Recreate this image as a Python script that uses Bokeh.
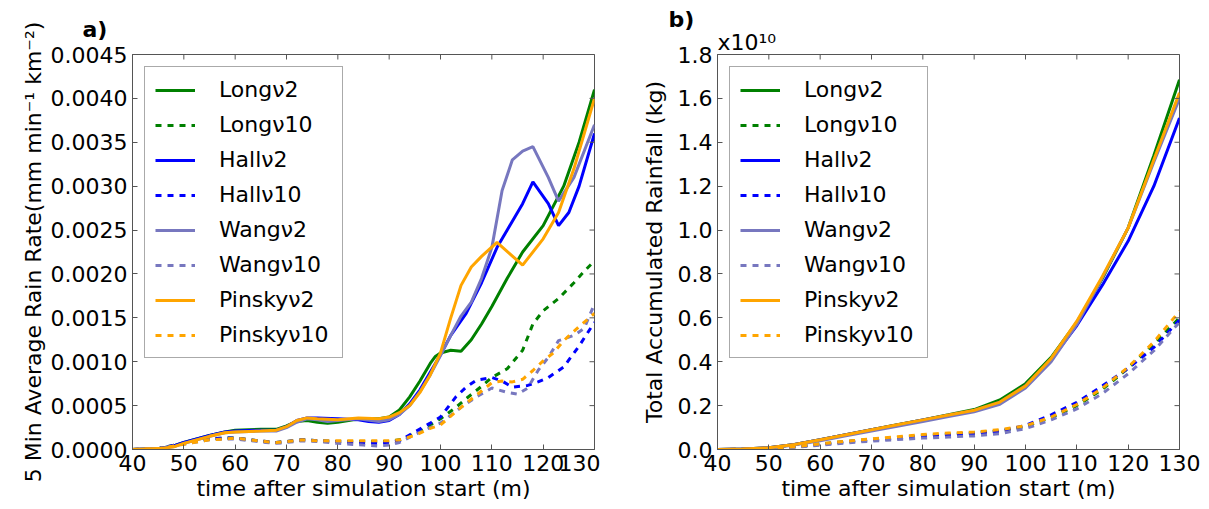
import math
from bokeh.plotting import figure
from bokeh.layouts import row
from bokeh.models import (FixedTicker, PrintfTickFormatter, Legend, LegendItem, Range1d, Title)
from bokeh.embed import file_html
from bokeh.resources import INLINE

# ---------------- panel a) : 5 min average rain rate ----------------
t_long2 = [40, 45, 48, 50, 55, 58, 60, 65, 68, 70, 72, 74, 76, 78, 80, 83, 86, 88, 90, 92, 94, 96, 98, 99,
           100, 102, 104, 106, 108, 110, 113, 116, 120, 124, 127, 130]
r_long2 = [0, 0.00001, 0.00004, 0.00008, 0.00016, 0.0002, 0.00022, 0.00023, 0.00023, 0.00027, 0.00032,
           0.00033, 0.00031, 0.0003, 0.00031, 0.00034, 0.00035, 0.00035, 0.00037, 0.00045, 0.0006, 0.00078,
           0.00098, 0.00106, 0.0011, 0.00113, 0.00112, 0.00125, 0.00143, 0.00163, 0.00195, 0.00225, 0.00255,
           0.003, 0.0035, 0.0041]

t_long10 = [40, 45, 50, 55, 58, 60, 63, 66, 68, 70, 73, 76, 80, 85, 90, 92, 95, 98, 100, 103, 105, 108, 110,
            113, 116, 118, 120, 123, 126, 128, 130]
r_long10 = [0, 0.00001, 0.00007, 0.00012, 0.00013, 0.00013, 0.00011, 0.00009, 0.00008, 0.00009, 0.00011,
            0.0001, 0.00009, 0.00009, 0.00009, 0.00011, 0.00018, 0.00028, 0.00035, 0.00048, 0.00058, 0.00072,
            0.00082, 0.00092, 0.00113, 0.00143, 0.00158, 0.00172, 0.0019, 0.00203, 0.00215]

t_hall2 = [40, 45, 48, 50, 55, 58, 60, 65, 68, 70, 72, 74, 76, 80, 84, 86, 88, 90, 92, 94, 96, 98, 100, 102,
           105, 108, 111, 113, 116, 118, 121, 123, 125, 127, 130]
r_hall2 = [0, 0.00001, 0.00004, 0.00008, 0.00016, 0.0002, 0.00021, 0.00022, 0.00022, 0.00026, 0.00033,
           0.00036, 0.00036, 0.00035, 0.00034, 0.00032, 0.00031, 0.00033, 0.0004, 0.00052, 0.00068, 0.00088,
           0.00108, 0.0013, 0.00155, 0.0019, 0.0023, 0.0025, 0.0028, 0.00305, 0.0028, 0.00255, 0.0027,
           0.003, 0.0036]

t_hall10 = [40, 45, 50, 55, 58, 60, 63, 66, 68, 70, 73, 76, 80, 85, 88, 90, 92, 95, 98, 100, 103, 105, 107,
            110, 112, 114, 117, 119, 121, 124, 127, 130]
r_hall10 = [0, 0.00001, 0.00007, 0.00012, 0.00013, 0.00013, 0.00011, 0.00009, 0.00008, 0.00009, 0.00011,
            0.0001, 0.00009, 0.00007, 0.00007, 0.00008, 0.0001, 0.0002, 0.0003, 0.00037, 0.0006, 0.00071,
            0.00079, 0.00082, 0.00078, 0.00071, 0.00073, 0.00077, 0.00082, 0.00094, 0.00118, 0.00145]

t_wang2 = [40, 45, 48, 50, 55, 58, 60, 65, 68, 70, 72, 74, 76, 78, 80, 84, 88, 90, 92, 94, 96, 98, 100, 102,
           104, 106, 108, 110, 112, 114, 116, 118, 121, 123, 126, 130]
r_wang2 = [0, 0.00001, 0.00003, 0.00007, 0.00015, 0.00019, 0.0002, 0.00021, 0.00021, 0.00025, 0.00031,
           0.00035, 0.00034, 0.00032, 0.00033, 0.00035, 0.00032, 0.00034, 0.0004, 0.0005, 0.00066, 0.00085,
           0.00107, 0.0013, 0.00152, 0.00168, 0.00195, 0.0023, 0.00295, 0.0033, 0.0034, 0.00345, 0.0031,
           0.00283, 0.0031, 0.0037]

t_wang10 = [40, 45, 50, 55, 58, 60, 63, 66, 68, 70, 73, 76, 80, 85, 88, 90, 92, 95, 98, 100, 104, 107, 110,
            113, 115, 117, 119, 121, 123, 126, 128, 130]
r_wang10 = [0, 0.00001, 0.00006, 0.00011, 0.00012, 0.00012, 0.0001, 0.00008, 0.00007, 0.00008, 0.0001,
            0.00009, 0.00007, 0.00005, 0.00004, 0.00005, 0.00008, 0.00017, 0.00025, 0.0003, 0.00048, 0.0006,
            0.0007, 0.00065, 0.00063, 0.0007, 0.0009, 0.00105, 0.00124, 0.0013, 0.00138, 0.00166]

t_pinsky2 = [40, 45, 48, 50, 55, 58, 60, 65, 68, 70, 72, 74, 76, 80, 84, 88, 90, 92, 94, 96, 98, 100, 102,
             104, 106, 108, 111, 116, 120, 123, 126, 128, 130]
r_pinsky2 = [0, 0.00001, 0.00003, 0.00007, 0.00015, 0.00019, 0.0002, 0.00021, 0.00022, 0.00026, 0.00033,
             0.00036, 0.00035, 0.00034, 0.00036, 0.00035, 0.00037, 0.00042, 0.0005, 0.00065, 0.00085, 0.0011,
             0.0015, 0.00187, 0.00208, 0.0022, 0.00236, 0.0021, 0.0024, 0.0027, 0.0032, 0.0036, 0.004]

t_pinsky10 = [40, 45, 50, 55, 58, 60, 63, 66, 68, 70, 73, 76, 80, 85, 90, 92, 95, 98, 100, 104, 107, 110,
              112, 114, 116, 118, 120, 122, 124, 127, 130]
r_pinsky10 = [0, 0.00001, 0.00006, 0.00011, 0.00012, 0.00013, 0.00011, 0.00009, 0.00008, 0.00009, 0.00011,
              0.0001, 0.0001, 0.0001, 0.0001, 0.00011, 0.00016, 0.00024, 0.00028, 0.00048, 0.00062, 0.00076,
              0.00078, 0.00077, 0.0008, 0.0009, 0.00101, 0.0011, 0.00124, 0.0014, 0.00155]

# ---------------- panel b) : total accumulated rainfall (x 1e10 kg) ----------------
t_acc = [40, 45, 50, 55, 60, 65, 70, 75, 80, 85, 90, 95, 100, 105, 110, 115, 120, 125, 130]
acc_long2 = [0, 0.002, 0.008, 0.023, 0.044, 0.067, 0.09, 0.113, 0.135, 0.158, 0.182, 0.226, 0.3, 0.42,
             0.58, 0.78, 1.01, 1.34, 1.685]
acc_long10 = [0, 0.001, 0.003, 0.012, 0.025, 0.037, 0.046, 0.054, 0.062, 0.069, 0.076, 0.085, 0.105, 0.145,
              0.2, 0.275, 0.37, 0.48, 0.6]
acc_hall2 = [0, 0.002, 0.008, 0.023, 0.044, 0.067, 0.09, 0.112, 0.134, 0.156, 0.178, 0.215, 0.29, 0.41,
             0.565, 0.75, 0.95, 1.2, 1.51]
acc_hall10 = [0, 0.001, 0.003, 0.012, 0.024, 0.035, 0.044, 0.052, 0.059, 0.066, 0.072, 0.083, 0.11, 0.158,
              0.215, 0.29, 0.37, 0.465, 0.59]
acc_wang2 = [0, 0.002, 0.007, 0.021, 0.04, 0.062, 0.084, 0.106, 0.128, 0.15, 0.172, 0.206, 0.28, 0.4,
             0.57, 0.785, 1.01, 1.31, 1.6]
acc_wang10 = [0, 0.001, 0.003, 0.01, 0.02, 0.03, 0.038, 0.045, 0.052, 0.057, 0.062, 0.072, 0.095, 0.135,
              0.185, 0.255, 0.345, 0.45, 0.58]
acc_pinsky2 = [0, 0.002, 0.008, 0.023, 0.044, 0.067, 0.09, 0.113, 0.135, 0.157, 0.179, 0.216, 0.29, 0.415,
               0.585, 0.79, 1.01, 1.32, 1.625]
acc_pinsky10 = [0, 0.001, 0.003, 0.013, 0.026, 0.038, 0.048, 0.058, 0.068, 0.075, 0.08, 0.09, 0.108, 0.148,
                0.205, 0.28, 0.375, 0.49, 0.63]

x_ticks = [40, 50, 60, 70, 80, 90, 100, 110, 120, 130]
rate_ticks = [0.0, 0.0005, 0.001, 0.0015, 0.002, 0.0025, 0.003, 0.0035, 0.004, 0.0045]
acc_ticks = [0.0, 0.2, 0.4, 0.6, 0.8, 1.0, 1.2, 1.4, 1.6, 1.8]

names = ["Long\u03bd2", "Long\u03bd10", "Hall\u03bd2", "Hall\u03bd10",
         "Wang\u03bd2", "Wang\u03bd10", "Pinsky\u03bd2", "Pinsky\u03bd10"]
colors = ["#008000", "#008000", "#0000ff", "#0000ff", "#7777bf", "#7777bf", "#ffa500", "#ffa500"]
dashes = ["solid", "6 6", "solid", "6 6", "solid", "6 6", "solid", "6 6"]

FONT = "DejaVu Sans"
FS = "22px"
FRAME_C = "#555555"


def make_fig(ymax, left_border, right_border):
    p = figure(frame_width=462, frame_height=395, min_border_left=left_border,
               min_border_right=right_border, min_border_top=54, min_border_bottom=60,
               x_range=Range1d(40, 130), y_range=Range1d(0, ymax),
               output_backend="svg", toolbar_location=None)
    p.xgrid.visible = False
    p.ygrid.visible = False
    p.outline_line_color = FRAME_C
    p.outline_line_width = 1
    p.background_fill_color = "white"
    p.border_fill_color = "white"
    return p


def style_axis(ax, ticks, fmt, label, standoff):
    ax.ticker = FixedTicker(ticks=ticks)
    ax.formatter = PrintfTickFormatter(format=fmt)
    ax.axis_line_color = FRAME_C
    ax.major_tick_line_color = FRAME_C
    ax.major_tick_in = 5
    ax.major_tick_out = 0
    ax.minor_tick_line_color = None
    ax.major_label_text_font = FONT
    ax.major_label_text_font_size = FS
    ax.major_label_text_color = "black"
    ax.major_label_standoff = 5
    ax.axis_label = label
    ax.axis_label_text_font = FONT
    ax.axis_label_text_font_size = FS
    ax.axis_label_text_font_style = "normal"
    ax.axis_label_text_color = "black"
    ax.axis_label_standoff = standoff


def mirror_ticks(p, yticks, ymax):
    # tick marks on the top and right edges (inward), clipped by the frame
    p.scatter(x=x_ticks, y=[ymax] * len(x_ticks), marker="dash", size=10,
              angle=math.pi / 2, line_color=FRAME_C, line_width=1)
    p.scatter(x=[130] * len(yticks), y=yticks, marker="dash", size=10,
              line_color=FRAME_C, line_width=1)


def add_legend(p, renderers):
    items = [LegendItem(label=n, renderers=[r]) for n, r in zip(names, renderers)]
    leg = Legend(items=items, location="top_left", margin=12, padding=10, spacing=10,
                 glyph_width=40, glyph_height=20, label_standoff=24, label_width=113,
                 label_text_font=FONT, label_text_font_size=FS, label_text_color="black",
                 border_line_color=FRAME_C, border_line_width=1,
                 background_fill_color="white", background_fill_alpha=1.0)
    p.add_layout(leg)


# ---- panel a
p1 = make_fig(0.0045, 132, 6)
r1 = []
for (tt, vv), c, d in zip([(t_long2, r_long2), (t_long10, r_long10), (t_hall2, r_hall2),
                           (t_hall10, r_hall10), (t_wang2, r_wang2), (t_wang10, r_wang10),
                           (t_pinsky2, r_pinsky2), (t_pinsky10, r_pinsky10)], colors, dashes):
    r1.append(p1.line(tt, vv, line_color=c, line_width=3, line_dash=d))
style_axis(p1.xaxis[0], x_ticks, "%d", "time after simulation start (m)", 2)
style_axis(p1.yaxis[0], rate_ticks, "%.4f", "5 Min Average Rain Rate(mm min\u207b\u00b9 km\u207b\u00b2)", 2)
mirror_ticks(p1, rate_ticks, 0.0045)
add_legend(p1, r1)
p1.title.text = "a)"
p1.title.align = "left"
p1.title.offset = -50
p1.title.standoff = 25
p1.title.text_font = FONT
p1.title.text_font_size = FS
p1.title.text_font_style = "bold"
p1.title.text_color = "black"

# ---- panel b
p2 = make_fig(1.8, 117, 30)
r2 = []
for vv, c, d in zip([acc_long2, acc_long10, acc_hall2, acc_hall10, acc_wang2, acc_wang10,
                     acc_pinsky2, acc_pinsky10], colors, dashes):
    r2.append(p2.line(t_acc, vv, line_color=c, line_width=3, line_dash=d))
style_axis(p2.xaxis[0], x_ticks, "%d", "time after simulation start (m)", 2)
style_axis(p2.yaxis[0], acc_ticks, "%.1f", "Total Accumulated Rainfall (kg)", 8)
mirror_ticks(p2, acc_ticks, 1.8)
add_legend(p2, r2)
p2.add_layout(Title(text="x10\u00b9\u2070", align="left", offset=0, standoff=0,
                    text_font=FONT, text_font_size=FS, text_font_style="normal",
                    text_color="black"), "above")
p2.title.text = "b)"
p2.title.align = "left"
p2.title.offset = -49
p2.title.standoff = -8
p2.title.text_font = FONT
p2.title.text_font_size = FS
p2.title.text_font_style = "bold"
p2.title.text_color = "black"

layout = row(p1, p2)
open("out.html", "w").write(file_html(layout, INLINE))
